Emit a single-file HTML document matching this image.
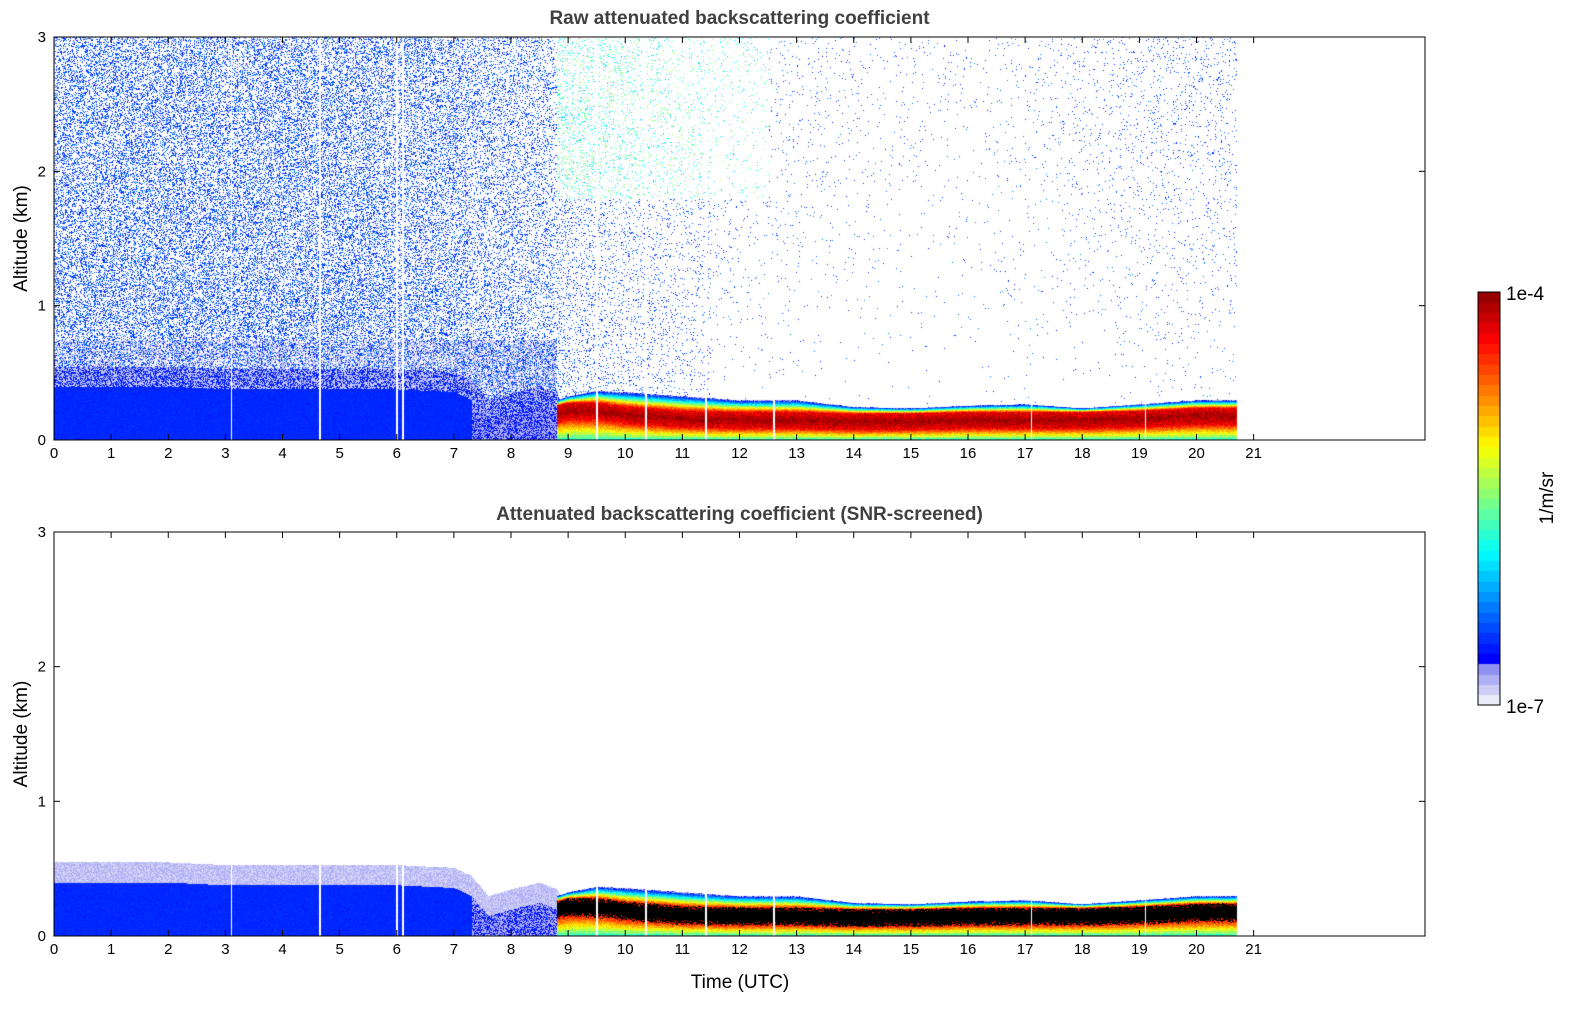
<!DOCTYPE html>
<html><head><meta charset="utf-8"><style>
body{margin:0;background:#fff;width:1595px;height:1020px;position:relative;font-family:"Liberation Sans",sans-serif;overflow:hidden}
.ttl{position:absolute;font-weight:bold;font-size:19px;color:#404040;text-align:center;width:1371px;left:54px}
canvas{position:absolute}
svg{position:absolute;left:0;top:0}
</style></head><body>
<div class="ttl" style="top:8px">Raw attenuated backscattering coefficient</div>
<div class="ttl" style="top:504px">Attenuated backscattering coefficient (SNR-screened)</div>
<canvas id="c1" width="1371" height="403" style="left:54px;top:37px"></canvas>
<canvas id="c2" width="1371" height="404" style="left:54px;top:532px"></canvas>
<canvas id="cb" width="22" height="413" style="left:1478px;top:292px"></canvas>
<svg id="ax" width="1595" height="1020"></svg>
<script>
const hours=[0,1,2,3,4,5,6,7,7.3,7.6,8,8.5,8.8,9,9.5,10,11,12,13,14,15,16,17,18,19,20,20.7];
const aerosolTop=[0.4,0.4,0.4,0.38,0.38,0.38,0.38,0.36,0.3,0.15,0.2,0.25,0.2,0,0,0,0,0,0,0,0,0,0,0,0,0,0];
const cloudTop=[0,0,0,0,0,0,0,0,0,0,0,0,0.3,0.33,0.37,0.36,0.33,0.3,0.3,0.25,0.24,0.26,0.27,0.24,0.27,0.3,0.3];
const cloudPeak=[0,0,0,0,0,0,0,0,0,0,0,0,0.2,0.22,0.22,0.19,0.16,0.15,0.15,0.14,0.14,0.15,0.15,0.15,0.16,0.18,0.18];
const noiseDensity=[0.3,0.3,0.3,0.3,0.3,0.3,0.28,0.26,0.2,0.2,0.2,0.18,0.15,0.12,0.1,0.08,0.06,0.04,0.03,0.02,0.015,0.015,0.02,0.03,0.05,0.06,0.06];
const gaps=[3.1,4.65,6.0,6.1,9.5,10.35,11.4,12.6,17.1,19.1];
const xTicks=[0,1,2,3,4,5,6,7,8,9,10,11,12,13,14,15,16,17,18,19,20,21];
const yTicks=[0,1,2,3];
const dataEnd=20.7;
const cloudStart=8.8;
const W=1371;
function xs(h){return h/24*W;}
function interp(arr,h){if(h<=hours[0])return arr[0];for(let i=1;i<hours.length;i++){if(h<=hours[i]){const t=(h-hours[i-1])/(hours[i]-hours[i-1]);return arr[i-1]+t*(arr[i]-arr[i-1]);}}return arr[arr.length-1];}
function hash(a,b){let n=(a*374761393+b*668265263)|0;n=(n^(n>>>13))*1274126177|0;n=n^(n>>>16);return ((n>>>0)%10000)/10000;}
function cl(v){return Math.max(0,Math.min(1,v));}
function cmap(f){if(f<0.1){const t=f/0.1;return [235-120*t,235-120*t,250-10*t];}
 const t=0.125+(f-0.1)/0.9*0.875;return [255*cl(1.5-Math.abs(4*t-3)),255*cl(1.5-Math.abs(4*t-2)),255*cl(1.5-Math.abs(4*t-1))];}
function draw(id,H,screened){
 const c=document.getElementById(id),ctx=c.getContext('2d'),img=ctx.createImageData(W,H),d=img.data;
 const core=0.06;
 for(let px=0;px<W;px++){
  const h=px/W*24;let gap=gaps.some(g=>Math.abs(xs(g)-px)<0.8);
  if(h>dataEnd||gap)continue;
  const aT=interp(aerosolTop,h),cT=h>=cloudStart?interp(cloudTop,h):0,cP=interp(cloudPeak,h),nd=interp(noiseDensity,h);
  for(let py=0;py<H;py++){
   const z=(H-py)/H*3;let f=-1;const r=hash(px,py+H*3);
   if(cT>0&&z<cT){let lv;const dz=z-cP;
     if(Math.abs(dz)<core)lv=-4.1-Math.abs(dz)*4;
     else if(dz>0)lv=-4.35-2.5*((dz-core)/Math.max(0.02,cT-cP-core));
     else lv=-4.35-1.5*((-dz-core)/Math.max(0.02,cP-core));
     f=(lv+7)/3+(r-0.5)*0.12;
     if(screened&&f>0.86)f=2;}
   else if(aT>0&&z<aT){f=0.14+(r-0.5)*0.03;if(h>7.3)f=r<0.5?0.12:0.05;}
   else if(aT>0&&z<aT+0.15){f=screened?(r<0.5?0.02:0.05):(r<0.5?0.03:0.13);}
   else if(!screened){let p=nd;if(h<8.8&&z<1.2)p*=1.1;if(h<8.8&&z<0.75)p=0.6;if(h>11.5)p*=z/3;
     if(r<p){f=(h>8.8&&h<12.5&&z>1.8)?0.28+hash(py,px)*0.25:0.11+hash(py,px)*0.12;if(h<8.8&&z<0.75&&hash(py,px+7)<0.5)f=0.04;}}
   if(f<0)continue;const i=(py*W+px)*4;let col=f>1.5?[0,0,0]:cmap(cl(f));
   d[i]=col[0];d[i+1]=col[1];d[i+2]=col[2];d[i+3]=255;}}
 ctx.putImageData(img,0,0);}
draw('c1',403,false);draw('c2',404,true);
const cb=document.getElementById('cb').getContext('2d');
for(let y=0;y<413;y++){const f=1-y/413;const q=Math.floor(f*40)/40;const col=cmap(q);cb.fillStyle=`rgb(${col[0]|0},${col[1]|0},${col[2]|0})`;cb.fillRect(0,y,22,1);}
const svg=document.getElementById('ax');let s='';
function panel(top,bot,name){
 s+=`<rect x="54" y="${top}" width="1371" height="${bot-top}" fill="none" stroke="#000"/>`;
 xTicks.forEach(t=>{const x=54+xs(t);s+=`<line x1="${x}" y1="${bot}" x2="${x}" y2="${bot-6}" stroke="#000"/><line x1="${x}" y1="${top}" x2="${x}" y2="${top+6}" stroke="#000"/><text x="${x}" y="${bot+18}" font-size="15" text-anchor="middle">${t}</text>`;});
 yTicks.forEach(t=>{const y=bot-t/3*(bot-top);s+=`<line x1="54" y1="${y}" x2="60" y2="${y}" stroke="#000"/><line x1="1425" y1="${y}" x2="1419" y2="${y}" stroke="#000"/><text x="46" y="${y+5}" font-size="15" text-anchor="end">${t}</text>`;});
 const my=(top+bot)/2;s+=`<text x="27" y="${my}" font-size="19" text-anchor="middle" transform="rotate(-90 27 ${my})">Altitude (km)</text>`;}
panel(37,440,'top');panel(532,936,'bottom');
s+=`<text x="740" y="988" font-size="19" text-anchor="middle">Time (UTC)</text>`;
s+=`<rect x="1478" y="292" width="22" height="413" fill="none" stroke="#000"/>`;
s+=`<text x="1506" y="300" font-size="19">1e-4</text><text x="1506" y="713" font-size="19">1e-7</text>`;
s+=`<text x="1553" y="498" font-size="19" text-anchor="middle" transform="rotate(-90 1553 498)">1/m/sr</text>`;
svg.innerHTML=s;
</script>
</body></html>
